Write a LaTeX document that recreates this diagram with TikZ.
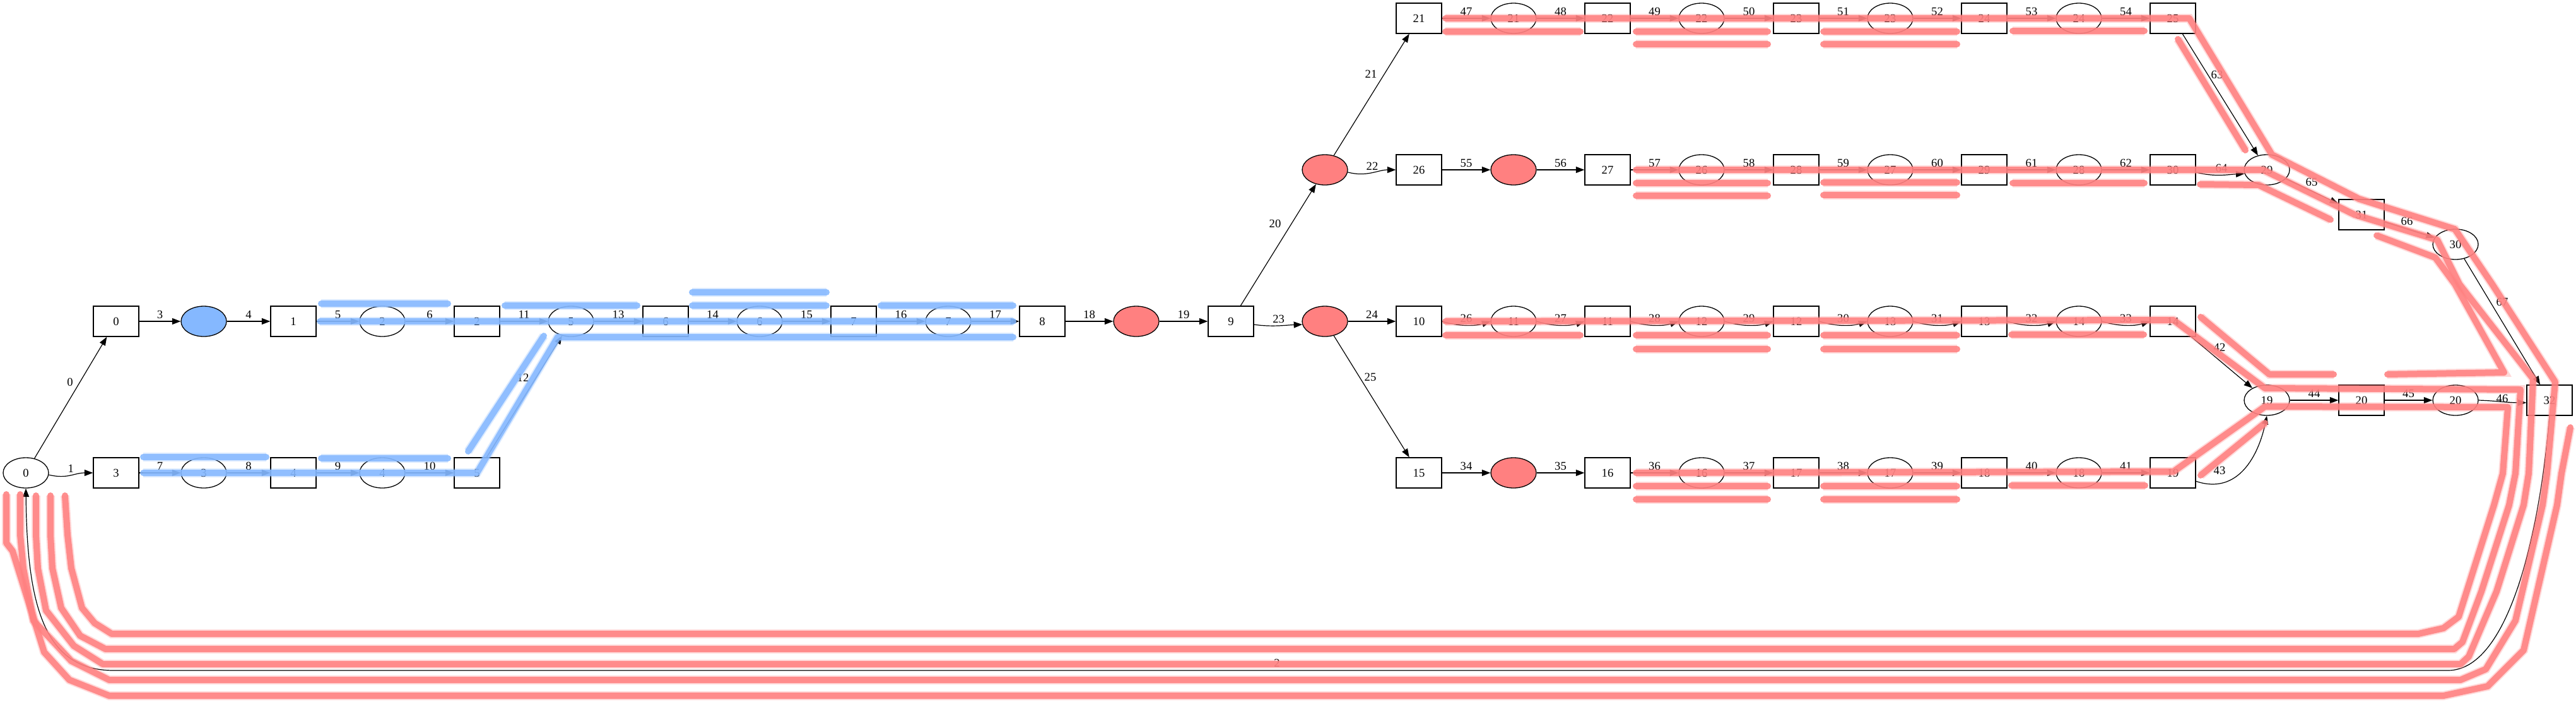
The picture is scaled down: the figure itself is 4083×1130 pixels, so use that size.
\documentclass[tikz,border=0pt]{standalone}
\usepackage{fontspec}
\setmainfont{Liberation Serif}
\usetikzlibrary{shapes.geometric,arrows.meta}
\definecolor{hlred}{RGB}{255,128,128}
\definecolor{hlblue}{RGB}{133,184,255}
\newcommand\nfont{\fontsize{5.3}{6}\selectfont}
\begin{document}
\begin{tikzpicture}[x=0.1mm,y=-0.1mm,
  tbox/.style={draw, rectangle, minimum width=7.2mm, minimum height=4.8mm, inner sep=0pt, line width=0.13mm, font=\nfont},
  pl/.style={draw, ellipse, minimum width=7.2mm, minimum height=4.8mm, inner sep=0pt, line width=0.13mm, font=\nfont},
  redpl/.style={pl, fill=hlred},
  bluepl/.style={pl, fill=hlblue},
  arr/.style={-{Triangle[length=1.35mm, width=1.0mm]}, line width=0.12mm},
  lbl/.style={font=\nfont, inner sep=0pt},
  ml/.style={midway, lbl, yshift=1.1mm},
  hr/.style={draw=hlred, line width=1.0mm, line cap=round, line join=round, opacity=0.88,
     preaction={draw=hlred, line width=1.4mm, opacity=0.3}},
  hb/.style={draw=hlblue, line width=1.0mm, line cap=round, line join=round, opacity=0.88,
     preaction={draw=hlblue, line width=1.4mm, opacity=0.3}}
]
\useasboundingbox (0,0) rectangle (4083,1130);
% ---------- nodes: left / main row
\node[pl] (p0) at (41,749) {0};
\node[tbox] (t0) at (184,509) {0};
\node[bluepl] (p1) at (323,509) {};
\node[tbox] (t1) at (465,509) {1};
\node[pl] (p2) at (606,509) {2};
\node[tbox] (t2) at (756,509) {2};
\node[pl] (p5) at (905,509) {5};
\node[tbox] (t6) at (1055,509) {6};
\node[pl] (p6) at (1204,509) {6};
\node[tbox] (t7) at (1353,509) {7};
\node[pl] (p7) at (1503,509) {7};
\node[tbox] (t8) at (1652,509) {8};
\node[redpl] (p8) at (1801,509) {};
\node[tbox] (t9) at (1951,509) {9};
\node[redpl] (p9) at (2100,509) {};
\node[redpl] (p10) at (2100,269) {};
% blue bottom row
\node[tbox] (t3) at (184,749) {3};
\node[pl] (p3) at (323,749) {3};
\node[tbox] (t4) at (465,749) {4};
\node[pl] (p4) at (606,749) {4};
\node[tbox] (t5) at (756,749) {5};
% top row
\node[tbox] (t21) at (2249,29) {21};
\node[pl] (p21) at (2399,29) {21};
\node[tbox] (t22) at (2548,29) {22};
\node[pl] (p22) at (2697,29) {22};
\node[tbox] (t23) at (2847,29) {23};
\node[pl] (p23) at (2996,29) {23};
\node[tbox] (t24) at (3145,29) {24};
\node[pl] (p24) at (3295,29) {24};
\node[tbox] (t25) at (3444,29) {25};
% second row
\node[tbox] (t26) at (2249,269) {26};
\node[redpl] (p25) at (2399,269) {};
\node[tbox] (t27) at (2548,269) {27};
\node[pl] (p26) at (2697,269) {26};
\node[tbox] (t28) at (2847,269) {28};
\node[pl] (p27) at (2996,269) {27};
\node[tbox] (t29) at (3145,269) {29};
\node[pl] (p28) at (3295,269) {28};
\node[tbox] (t30) at (3444,269) {30};
\node[pl] (p29) at (3593,269) {29};
\node[tbox] (t31) at (3743,340) {31};
\node[pl] (p30) at (3892,387) {30};
% row 10
\node[tbox] (t10) at (2249,509) {10};
\node[pl] (p11) at (2399,509) {11};
\node[tbox] (t11) at (2548,509) {11};
\node[pl] (p12) at (2697,509) {12};
\node[tbox] (t12) at (2847,509) {12};
\node[pl] (p13) at (2996,509) {13};
\node[tbox] (t13) at (3145,509) {13};
\node[pl] (p14) at (3295,509) {14};
\node[tbox] (t14) at (3444,509) {14};
% sink row
\node[pl] (p19) at (3593,634) {19};
\node[tbox] (t20) at (3743,634) {20};
\node[pl] (p20) at (3892,634) {20};
\node[tbox] (t32) at (4041,634) {32};
% bottom row
\node[tbox] (t15) at (2249,749) {15};
\node[redpl] (p15) at (2399,749) {};
\node[tbox] (t16) at (2548,749) {16};
\node[pl] (p16) at (2697,749) {16};
\node[tbox] (t17) at (2847,749) {17};
\node[pl] (p17) at (2996,749) {17};
\node[tbox] (t18) at (3145,749) {18};
\node[pl] (p18) at (3295,749) {18};
\node[tbox] (t19) at (3444,749) {19};

% ---------- edges
\draw[arr] (p0) -- (t0) node[lbl] at (111,605) {0};
\draw[arr] (p0.-5) .. controls +(30,7) and +(-30,0) .. (t3.west) node[ml] {1};
\draw[arr] (t32.south) .. controls (4025,850) and (3975,1062) .. (3880,1062) -- (180,1062)
   .. controls (70,1062) and (43,960) .. (p0.south) node[lbl] at (2024,1050) {2};
\draw[arr] (t0) -- (p1) node[ml] {3};
\draw[arr] (p1) -- (t1) node[ml] {4};
\draw[arr] (t1) -- (p2) node[ml] {5};
\draw[arr] (p2) -- (t2) node[ml] {6};
\draw[arr] (t3) -- (p3) node[ml] {7};
\draw[arr] (p3) -- (t4) node[ml] {8};
\draw[arr] (t4) -- (p4) node[ml] {9};
\draw[arr] (p4) -- (t5) node[ml] {10};
\draw[arr] (t2) -- (p5) node[ml] {11};
\draw[arr] (t5) -- (p5) node[lbl] at (829,598) {12};
\draw[arr] (p5) -- (t6) node[ml] {13};
\draw[arr] (t6) -- (p6) node[ml] {14};
\draw[arr] (p6) -- (t7) node[ml] {15};
\draw[arr] (t7) -- (p7) node[ml] {16};
\draw[arr] (p7) -- (t8) node[ml] {17};
\draw[arr] (t8) -- (p8) node[ml] {18};
\draw[arr] (p8) -- (t9) node[ml] {19};
\draw[arr] (t9) -- (p10) node[lbl] at (2021,354) {20};
\draw[arr] (p10) -- (t21) node[lbl] at (2173,117) {21};
\draw[arr] (p10.-6) .. controls +(30,8) and +(-28,0) .. (t26.west) node[ml] {22};
\draw[arr] (t9.-8) .. controls +(30,4) and +(-28,1) .. (p9.188) node[ml] {23};
\draw[arr] (p9) -- (t10) node[ml] {24};
\draw[arr] (p9) -- (t15) node[lbl] at (2172,597) {25};
% row 10 (slightly sagging)
\draw[arr] (t10.east) .. controls +(25,8) and +(-25,8) .. (p11.west) node[ml] {26};
\draw[arr] (p11.east) .. controls +(25,8) and +(-25,8) .. (t11.west) node[ml] {27};
\draw[arr] (t11.east) .. controls +(25,8) and +(-25,8) .. (p12.west) node[ml] {28};
\draw[arr] (p12.east) .. controls +(25,8) and +(-25,8) .. (t12.west) node[ml] {29};
\draw[arr] (t12.east) .. controls +(25,8) and +(-25,8) .. (p13.west) node[ml] {30};
\draw[arr] (p13.east) .. controls +(25,8) and +(-25,8) .. (t13.west) node[ml] {31};
\draw[arr] (t13.east) .. controls +(25,8) and +(-25,8) .. (p14.west) node[ml] {32};
\draw[arr] (p14.east) .. controls +(25,8) and +(-25,8) .. (t14.west) node[ml] {33};
% bottom row
\draw[arr] (t15) -- (p15) node[ml] {34};
\draw[arr] (p15) -- (t16) node[ml] {35};
\draw[arr] (t16) -- (p16) node[ml] {36};
\draw[arr] (p16) -- (t17) node[ml] {37};
\draw[arr] (t17) -- (p17) node[ml] {38};
\draw[arr] (p17) -- (t18) node[ml] {39};
\draw[arr] (t18) -- (p18) node[ml] {40};
\draw[arr] (p18) -- (t19) node[ml] {41};
\draw[arr] (t14) -- (p19) node[lbl] at (3518,550) {42};
\draw[arr] (t19.-20) .. controls (3548,785) and (3580,720) .. (p19.south) node[lbl] at (3518,745) {43};
\draw[arr] (p19) -- (t20) node[ml] {44};
\draw[arr] (t20) -- (p20) node[ml] {45};
\draw[arr] (p20.east) .. controls +(30,1) and +(-30,0) .. (t32.186) node[lbl] at (3966,631) {46};
% top row
\draw[arr] (t21) -- (p21) node[ml] {47};
\draw[arr] (p21) -- (t22) node[ml] {48};
\draw[arr] (t22) -- (p22) node[ml] {49};
\draw[arr] (p22) -- (t23) node[ml] {50};
\draw[arr] (t23) -- (p23) node[ml] {51};
\draw[arr] (p23) -- (t24) node[ml] {52};
\draw[arr] (t24) -- (p24) node[ml] {53};
\draw[arr] (p24) -- (t25) node[ml] {54};
% second row
\draw[arr] (t26) -- (p25) node[ml] {55};
\draw[arr] (p25) -- (t27) node[ml] {56};
\draw[arr] (t27) -- (p26) node[ml] {57};
\draw[arr] (p26) -- (t28) node[ml] {58};
\draw[arr] (t28) -- (p27) node[ml] {59};
\draw[arr] (p27) -- (t29) node[ml] {60};
\draw[arr] (t29) -- (p28) node[ml] {61};
\draw[arr] (p28) -- (t30) node[ml] {62};
\draw[arr] (t25) -- (p29) node[lbl] at (3514,118) {63};
\draw[arr] (t30.-6) .. controls +(30,8) and +(-25,1) .. (p29.190) node[ml] {64};
\draw[arr] (p29) -- (t31) node[lbl] at (3664,288) {65};
\draw[arr] (t31) -- (p30) node[lbl] at (3815,350) {66};
\draw[arr] (p30) -- (t32) node[lbl] at (3966,478) {67};

% ---------- blue highlights
\draw[hb] (227,749) -- (756,749) -- (884,534) -- (1606,534);
\draw[hb] (742,715) -- (862,532);
\draw[hb] (227,724) -- (422,724);
\draw[hb] (509,726) -- (710,726);
\draw[hb] (507,509) -- (1606,509);
\draw[hb] (509,481) -- (710,481);
\draw[hb] (800,484) -- (1010,484);
\draw[hb] (1097,463) -- (1310,463);
\draw[hb] (1097,484) -- (1310,484);
\draw[hb] (1396,484) -- (1606,484);

% ---------- red highlights: main paths with loop lanes
\draw[hr] (2291,29) -- (3470,29) -- (3601,245) -- (3739,315) -- (3891,363) -- (3950,450) -- (4050,605)
  -- (4037,750) -- (4030,800) -- (3987,983) -- (3940,1060) -- (3900,1077) -- (173,1077)
  -- (113,1047) -- (53,983) -- (37,900) -- (32,847) -- (32,783);
\draw[hr] (2593,269) -- (3587,269) -- (3732,340) -- (3863,380) -- (3898,450) -- (4015,600)
  -- (4008,750) -- (4000,800) -- (3957,937) -- (3913,1040) -- (3900,1052) -- (163,1052)
  -- (117,1023) -- (73,967) -- (60,900) -- (57,847) -- (57,785);
\draw[hr] (2291,509) -- (3445,507) -- (3590,615) -- (3995,617) -- (3987,750) -- (3977,800)
  -- (3933,937) -- (3903,1017) -- (3890,1028) -- (167,1028) -- (127,1007) -- (97,963)
  -- (83,900) -- (80,847) -- (80,785);
\draw[hr] (2593,749) -- (3445,747) -- (3590,644) -- (3975,645) -- (3967,750) -- (3953,800)
  -- (3897,977) -- (3873,995) -- (3833,1004) -- (177,1004) -- (150,987) -- (130,963)
  -- (113,900) -- (107,847) -- (103,785);
\draw[hr] (4074,677) -- (4060,750) -- (4053,800) -- (4000,1030) -- (3943,1087) -- (3873,1102)
  -- (173,1102) -- (110,1077) -- (70,1033) -- (20,873) -- (10,860) -- (10,783);
% free pieces
\draw[hr] (3452,62) -- (3559,238);
\draw[hr] (3487,292) -- (3580,293) -- (3694,348);
\draw[hr] (3767,373) -- (3860,408) -- (3891,450) -- (3969,590) -- (3784,593);
\draw[hr] (3488,502) -- (3597,593) -- (3699,593);
\draw[hr] (3488,753) -- (3590,670);
% waiting lanes: top row
\draw[hr] (2291,50) -- (2505,50);
\draw[hr] (2593,50) -- (2802,50);
\draw[hr] (2593,70) -- (2802,70);
\draw[hr] (2890,50) -- (3102,50);
\draw[hr] (2890,70) -- (3102,70);
\draw[hr] (3190,49) -- (3399,49);
% second row
\draw[hr] (2593,290) -- (2802,290);
\draw[hr] (2593,310) -- (2802,310);
\draw[hr] (2890,289) -- (3102,289);
\draw[hr] (2890,309) -- (3102,309);
\draw[hr] (3190,290) -- (3399,290);
% row 10
\draw[hr] (2291,531) -- (2505,531);
\draw[hr] (2593,531) -- (2802,531);
\draw[hr] (2593,553) -- (2802,553);
\draw[hr] (2890,531) -- (3102,531);
\draw[hr] (2890,553) -- (3102,553);
\draw[hr] (3188,530) -- (3398,530);
% bottom row
\draw[hr] (2593,770) -- (2802,770);
\draw[hr] (2593,791) -- (2802,791);
\draw[hr] (2890,770) -- (3102,770);
\draw[hr] (2890,791) -- (3102,791);
\draw[hr] (3188,769) -- (3400,769);
\end{tikzpicture}
\end{document}
